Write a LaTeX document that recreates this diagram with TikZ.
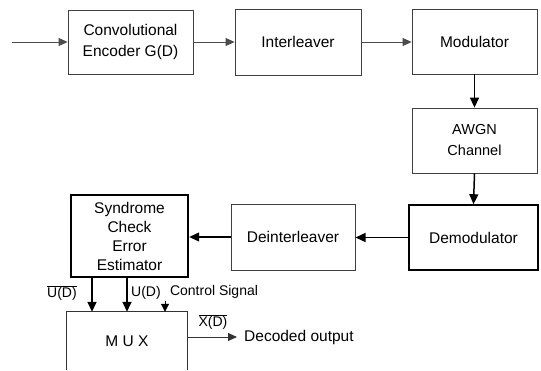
\documentclass[tikz,border=0pt]{standalone}
\usepackage{fontspec}
\setmainfont{Liberation Sans}
\usetikzlibrary{arrows.meta,calc}
\tikzset{
  thinbox/.style={draw=black!75, line width=0.8pt, rectangle, align=center, inner sep=0pt,
    font=\fontsize{15.5}{21.5}\selectfont},
  thickbox/.style={draw=black, line width=2pt, rectangle, align=center, inner sep=0pt,
    font=\fontsize{15.5}{19}\selectfont},
  thinarr/.style={draw=black!70, line width=0.8pt, -{Triangle[length=9pt,width=8pt]}},
  arr/.style={draw=black, line width=1.5pt, -{Triangle[length=10pt,width=9pt]}},
  lbl/.style={inner sep=0pt, font=\fontsize{14}{16}\selectfont},
}
\begin{document}
\begin{tikzpicture}[x=1pt,y=-1pt]
\useasboundingbox (0,0) rectangle (541,370);
% top row
\node[thinbox, minimum width=125pt, minimum height=64pt] (enc) at (130.5,42) {Convolutional\\Encoder G(D)};
\node[thinbox, minimum width=126pt, minimum height=66pt] (intl) at (298,42) {Interleaver};
\node[thinbox, minimum width=125pt, minimum height=65pt] (mod) at (474.5,41.5) {Modulator};
\node[thinbox, minimum width=125pt, minimum height=65pt, font=\fontsize{14.5}{21}\selectfont] (awgn) at (474.5,140.5) {AWGN\\Channel};
% middle row
\node[thickbox, line width=1.6pt, minimum width=129pt, minimum height=65pt] (demod) at (473.5,237.5) {Demodulator};
\node[thinbox, line width=1pt, minimum width=124pt, minimum height=66pt] (deint) at (293,237) {Deinterleaver};
\node[thickbox, line width=2.4pt, minimum width=117pt, minimum height=82pt] (synd) at (129.5,236) {Syndrome\\Check\\Error\\Estimator};
% MUX (open at the bottom)
\node[inner sep=0pt, minimum width=120pt, minimum height=58pt, font=\fontsize{15.5}{19}\selectfont] (mux) at (127,341) {M U X};
\draw[black!80, line width=0.9pt] (mux.south west) -- (mux.north west) -- (mux.north east) -- (mux.south east);
% connectors
\coordinate (in) at (12,42);
\draw[thinarr] (in) -- (enc.west);
\draw[thinarr] (enc.east) -- (intl.west |- enc.east);
\draw[thinarr] (intl.east) -- (mod.west |- intl.east);
\draw[arr] (mod.south) -- (awgn.north);
\draw[arr] (awgn.south) -- (demod.north);
\draw[arr, line width=1.3pt] (demod.west) -- (deint.east |- demod.west);
\draw[arr, line width=1.1pt] (deint.west) -- (synd.east |- deint.west);
\coordinate (ubar) at ([xshift=-35pt]mux.north);
\coordinate (u) at (mux.north);
\coordinate (cs) at (165,301);
\draw[arr] (synd.south -| ubar) -- (ubar);
\draw[arr] (synd.south -| u) -- (u);
\draw[black, line width=1pt, -{Triangle[length=8pt,width=8pt]}] (cs) -- (cs |- mux.north);
\coordinate (outp) at (237,337);
\draw[black!80, line width=0.9pt, -{Triangle[length=9pt,width=8pt]}] (mux.east |- outp) -- (outp);
% labels
\node[lbl] (lubar) at (62,293) {$\overline{\hbox{U(D)}}$};
\node[lbl] (lu) at (146,293) {U(D)};
\node[lbl] (lcs) at (214,292) {Control Signal};
\node[lbl] (lx) at (213,322) {$\overline{\hbox{X(D)}}$};
\node[lbl, anchor=west, font=\fontsize{15.5}{18}\selectfont] (dec) at (244,337) {Decoded output};
\end{tikzpicture}
\end{document}
